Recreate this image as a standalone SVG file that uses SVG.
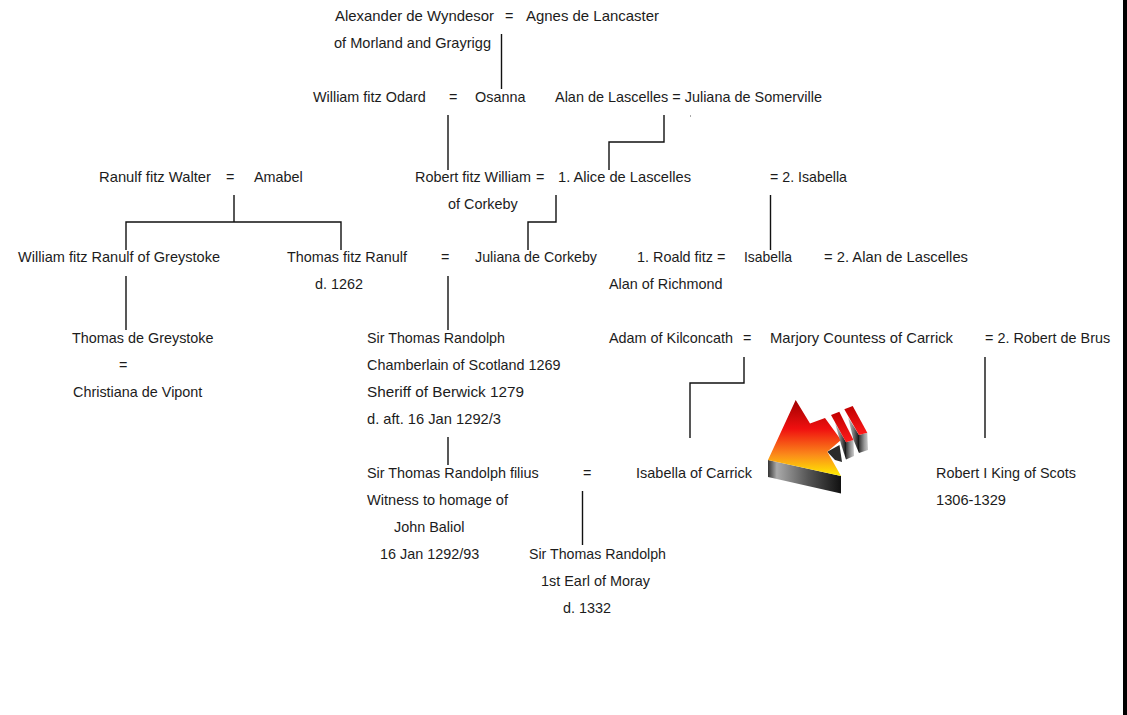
<svg xmlns="http://www.w3.org/2000/svg" width="1127" height="715" viewBox="0 0 1127 715">
<style>
text{font-family:"Liberation Sans",Arial,sans-serif;font-size:14.4px;fill:#1c1c1c}
.c{fill:none;stroke:#111;stroke-width:1.4}
</style>
<defs>
<linearGradient id="fire" gradientUnits="userSpaceOnUse" x1="0" y1="400" x2="0" y2="476"><stop offset="0" stop-color="#a00000"/><stop offset=".38" stop-color="#f01010"/><stop offset=".72" stop-color="#fb8a1a"/><stop offset="1" stop-color="#ffee00"/></linearGradient>
<linearGradient id="bar" x1="0" y1="0" x2="0" y2="1"><stop offset="0" stop-color="#c00000"/><stop offset="1" stop-color="#ff1a1a"/></linearGradient>
<linearGradient id="steel" x1="0" y1="0" x2="1" y2="0"><stop offset="0" stop-color="#333"/><stop offset=".12" stop-color="#aaa"/><stop offset=".55" stop-color="#555"/><stop offset="1" stop-color="#111"/></linearGradient>
<linearGradient id="steel2" x1="0" y1="0" x2="1" y2="0"><stop offset="0" stop-color="#333"/><stop offset=".6" stop-color="#999"/><stop offset="1" stop-color="#ccc"/></linearGradient>
<linearGradient id="steel3" x1="0" y1="0" x2="1" y2="0"><stop offset="0" stop-color="#ccc"/><stop offset=".5" stop-color="#777"/><stop offset="1" stop-color="#111"/></linearGradient>
</defs>
<rect width="1127" height="715" fill="#fff"/>
<rect x="1123" y="0" width="4" height="715" fill="#000"/>
<g id="connectors">
<path class="c" d="M501.500 34V89"/>
<path class="c" d="M448 115V170"/>
<path class="c" d="M664 115V142H609V170"/>
<path class="c" d="M556 195V222H528V250"/>
<path class="c" d="M770.500 195V250"/>
<path class="c" d="M126 276V330"/>
<path class="c" d="M234 195V222M126 250V222H341V250"/>
<path class="c" d="M448 276V330"/>
<path class="c" d="M448 437V465"/>
<path class="c" d="M744 357V383H690V438"/>
<path class="c" d="M985 357V438"/>
<path class="c" d="M582.500 491V545"/>
<path d="M690 116h1" stroke="#555" fill="none"/>
</g>
<g id="n-alexander"><text x="335" y="21" textLength="159" lengthAdjust="spacingAndGlyphs">Alexander de Wyndesor</text><text x="505" y="21">=</text><text x="334" y="48" textLength="157" lengthAdjust="spacingAndGlyphs">of Morland and Grayrigg</text></g>
<g id="n-agnes"><text x="526" y="21" textLength="133" lengthAdjust="spacingAndGlyphs">Agnes de Lancaster</text></g>
<g id="n-william-odard"><text x="313" y="102">William fitz Odard</text><text x="449" y="102">=</text></g>
<g id="n-osanna"><text x="475" y="102">Osanna</text></g>
<g id="n-alan"><text x="555" y="102" textLength="267" lengthAdjust="spacingAndGlyphs">Alan de Lascelles = Juliana de Somerville</text></g>
<g id="n-ranulf"><text x="99" y="182" textLength="112" lengthAdjust="spacingAndGlyphs">Ranulf fitz Walter</text><text x="226" y="182">=</text></g>
<g id="n-amabel"><text x="254" y="182">Amabel</text></g>
<g id="n-robert"><text x="415" y="182">Robert fitz William</text><text x="536" y="182">=</text><text x="448" y="209">of Corkeby</text></g>
<g id="n-alice"><text x="558" y="182" textLength="133" lengthAdjust="spacingAndGlyphs">1. Alice de Lascelles</text></g>
<g id="n-isabella2"><text x="770" y="182" textLength="77" lengthAdjust="spacingAndGlyphs">= 2. Isabella</text></g>
<g id="n-william-ranulf"><text x="18" y="262" textLength="202" lengthAdjust="spacingAndGlyphs">William fitz Ranulf of Greystoke</text></g>
<g id="n-thomas-ranulf"><text x="287" y="262">Thomas fitz Ranulf</text><text x="441" y="262">=</text><text x="315" y="289">d. 1262</text></g>
<g id="n-juliana"><text x="475" y="262" textLength="122" lengthAdjust="spacingAndGlyphs">Juliana de Corkeby</text></g>
<g id="n-roald"><text x="637" y="262">1. Roald fitz =</text><text x="609" y="289">Alan of Richmond</text></g>
<g id="n-isabella"><text x="744" y="262" textLength="48" lengthAdjust="spacingAndGlyphs">Isabella</text></g>
<g id="n-alan2"><text x="824" y="262" textLength="144" lengthAdjust="spacingAndGlyphs">= 2. Alan de Lascelles</text></g>
<g id="n-thomas-greystoke"><text x="72" y="343">Thomas de Greystoke</text><text x="119" y="370">=</text><text x="73" y="397">Christiana de Vipont</text></g>
<g id="n-thomas-randolph"><text x="367" y="343" textLength="138" lengthAdjust="spacingAndGlyphs">Sir Thomas Randolph</text><text x="367" y="370">Chamberlain of Scotland 1269</text><text x="367" y="397" textLength="157" lengthAdjust="spacingAndGlyphs">Sheriff of Berwick 1279</text><text x="367" y="424" textLength="134" lengthAdjust="spacingAndGlyphs">d. aft. 16 Jan 1292/3</text></g>
<g id="n-adam"><text x="609" y="343">Adam of Kilconcath</text><text x="743" y="343">=</text></g>
<g id="n-marjory"><text x="770" y="343" textLength="183" lengthAdjust="spacingAndGlyphs">Marjory Countess of Carrick</text></g>
<g id="n-robert-brus"><text x="985" y="343">= 2. Robert de Brus</text></g>
<g id="n-filius"><text x="367" y="478">Sir Thomas Randolph filius</text><text x="583" y="478">=</text><text x="367" y="505" textLength="141" lengthAdjust="spacingAndGlyphs">Witness to homage of</text><text x="394" y="532">John Baliol</text><text x="380" y="559">16 Jan 1292/93</text></g>
<g id="n-isabella-carrick"><text x="636" y="478" textLength="116" lengthAdjust="spacingAndGlyphs">Isabella of Carrick</text></g>
<g id="n-robert-i"><text x="936" y="478">Robert I King of Scots</text><text x="936" y="505" textLength="70" lengthAdjust="spacingAndGlyphs">1306-1329</text></g>
<g id="n-earl"><text x="529" y="559" textLength="137" lengthAdjust="spacingAndGlyphs">Sir Thomas Randolph</text><text x="541" y="586" textLength="109" lengthAdjust="spacingAndGlyphs">1st Earl of Moray</text><text x="563" y="613">d. 1332</text></g>
<g id="logo">
<polygon points="768,460 841,476 841,493.500 768,477" fill="url(#steel)"/>
<polygon points="827.300,451.700 839.500,445 842,462 835,460" fill="#2a2a2a"/>
<polygon points="795.700,400 810,423.500 825,418 841,440 827.300,451.700 841,476 768,460" fill="url(#fire)"/>
<polygon points="835,423 846,442 846,459.500 841,444" fill="url(#steel3)"/>
<polygon points="846,442.300 853.500,440 854,456 846,459.500" fill="url(#steel2)"/>
<polygon points="831,415 839.300,411.700 853.500,440 846,442.300" fill="url(#bar)"/>
<polygon points="848,417 859,435 859,453 853.500,440" fill="url(#steel3)"/>
<polygon points="859,435 867.300,432.700 868,450 859,453" fill="url(#steel2)"/>
<polygon points="844.300,409.300 852.700,406 867.300,432.700 859,435" fill="url(#bar)"/>
</g>
</svg>
